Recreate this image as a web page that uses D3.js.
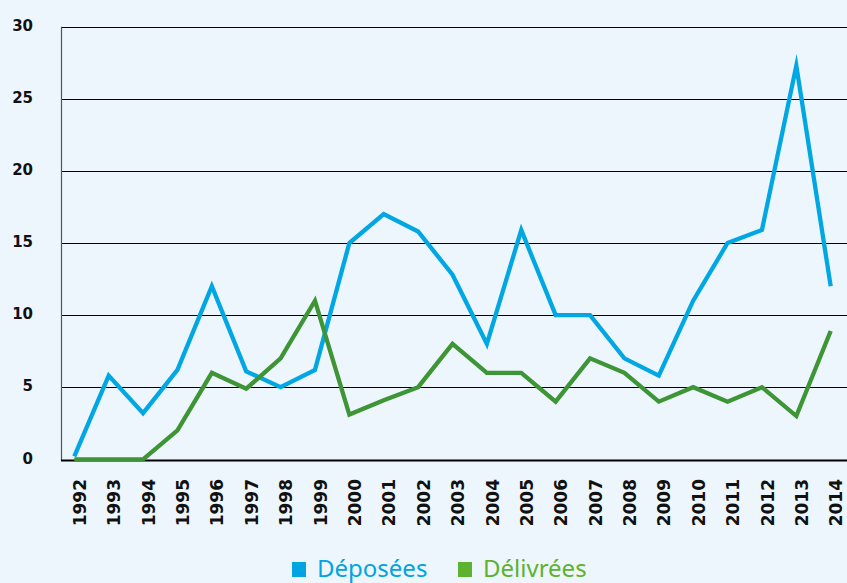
<!DOCTYPE html>
<html>
<head>
<meta charset="utf-8">
<script src="https://cdn.jsdelivr.net/npm/d3@7"></script>
<style>
  html, body { margin: 0; padding: 0; background: #eef6fd; }
  svg { display: block; }
</style>
</head>
<body>
<div id="chart"></div>
<script>
// données
const annees = ["1992","1993","1994","1995","1996","1997","1998","1999","2000","2001","2002",
  "2003","2004","2005","2006","2007","2008","2009","2010","2011","2012","2013","2014"];
const deposees = [0.2, 5.8, 3.2, 6.2, 12, 6.1, 5, 6.2, 15, 17, 15.8,
  12.8, 8, 15.9, 10, 10, 7, 5.8, 11, 15, 15.9, 27.3, 12];
const delivrees = [0, 0, 0, 2, 6, 4.9, 7, 11, 3.1, 4.1, 5,
  8, 6, 6, 4, 7, 6, 4, 5, 4, 5, 3, 8.9];
const yTicks = [0, 5, 10, 15, 20, 25, 30];
const seriesNames = ["Déposées", "Délivrées"];
const lineColors = ["#00a7e3", "#3e9535"];
const legendColors = ["#00a4e0", "#5db22f"];

const W = 847, H = 583;

const svg = d3.select("#chart")
  .append("svg")
  .attr("width", W)
  .attr("height", H);

svg.append("rect").attr("width", W).attr("height", H).attr("fill", "#eef6fd");

const x = d3.scalePoint()
  .domain(annees)
  .range([74.3, 830.7]);

const y = d3.scaleLinear()
  .domain([0, 30])
  .range([459.3, 26.7]);

const left = 61;

// lignes horizontales
svg.append("g")
  .selectAll("line")
  .data(yTicks.filter(d => d > 0))
  .enter()
  .append("line")
  .attr("x1", left)
  .attr("x2", W)
  .attr("y1", d => Math.round(y(d)) + 0.5)
  .attr("y2", d => Math.round(y(d)) + 0.5)
  .attr("stroke", "#000")
  .attr("stroke-width", 1);

// axe vertical
svg.append("line")
  .attr("x1", left + 0.5).attr("x2", left + 0.5)
  .attr("y1", y(30)).attr("y2", 461)
  .attr("stroke", "#555")
  .attr("stroke-width", 1.2);

// étiquettes Y
svg.append("g")
  .selectAll("text")
  .data(yTicks)
  .enter()
  .append("text")
  .attr("x", 33)
  .attr("y", d => y(d) - 1)
  .attr("dy", "0.35em")
  .attr("text-anchor", "end")
  .attr("font-family", "DejaVu Sans")
  .attr("font-weight", "bold")
  .attr("font-size", 15)
  .attr("fill", "#111")
  .text(d => d);

// axe horizontal
svg.append("line")
  .attr("x1", left).attr("x2", W)
  .attr("y1", 460.5).attr("y2", 460.5)
  .attr("stroke", "#000")
  .attr("stroke-width", 2);

// étiquettes X (verticales)
svg.append("g")
  .selectAll("text")
  .data(annees)
  .enter()
  .append("text")
  .attr("transform", d => `translate(${x(d) + 5.5}, 479) rotate(-90)`)
  .attr("dy", "0.36em")
  .attr("text-anchor", "end")
  .attr("font-family", "DejaVu Sans")
  .attr("font-weight", "bold")
  .attr("font-size", 17)
  .attr("fill", "#111")
  .text(d => d);

// courbes
const line = d3.line()
  .x((d, i) => x(annees[i]))
  .y(d => y(d));

[deposees, delivrees].forEach((serie, k) => {
  svg.append("path")
    .datum(serie)
    .attr("d", line)
    .attr("fill", "none")
    .attr("stroke", lineColors[k])
    .attr("stroke-width", 4.3)
    .attr("stroke-linejoin", "miter")
    .attr("stroke-miterlimit", 10);
});

// légende
const legendX = [292, 458];
const leg = svg.append("g");
seriesNames.forEach((nom, k) => {
  leg.append("rect")
    .attr("x", legendX[k])
    .attr("y", 562)
    .attr("width", 14)
    .attr("height", 15)
    .attr("fill", legendColors[k]);
  leg.append("text")
    .attr("x", legendX[k] + 25)
    .attr("y", 577)
    .attr("font-family", "Noto Sans")
    .attr("font-size", 24)
    .attr("fill", legendColors[k])
    .text(nom);
});
</script>
</body>
</html>
